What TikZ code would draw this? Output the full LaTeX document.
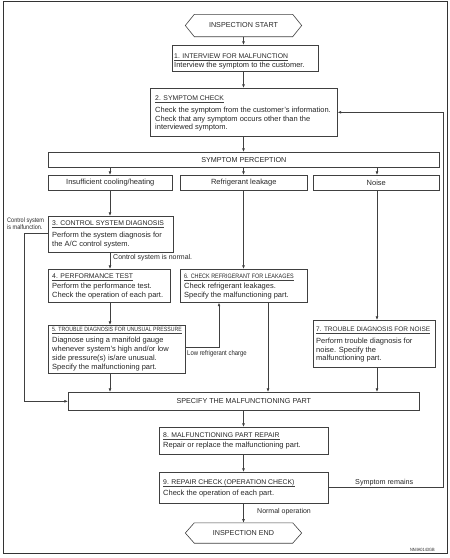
\documentclass[tikz,border=0pt]{standalone}
\usepackage{fontspec}
\setmainfont{Liberation Sans}
\newfontfamily\narrowfam[FakeStretch=0.85]{Liberation Sans}
\usetikzlibrary{arrows.meta,calc}
\newcommand\titlefont{\fontsize{7.2}{8.8}\selectfont}
\newcommand\steptitlefont{\fontsize{6.85}{8.8}\selectfont}
\newcommand\bodyfont{\fontsize{7.5}{8.8}\selectfont}
\newcommand\narrowtitle{\narrowfam\fontsize{6.4}{8}\selectfont}
\newcommand\mkTitle[4][\steptitlefont]{%
  \node[ttl,font=#1] (#2) at #3 {#4};
  \draw[ulin] ([yshift=-2.3pt]#2.south west) -- ([yshift=-2.3pt]#2.south east);}
\begin{document}
\begin{tikzpicture}[x=1pt,y=-1pt,
  box/.style={draw=black!75, line width=0.6pt, inner sep=0pt, anchor=north west, font=\titlefont, text=black!85},
  ttl/.style={anchor=base west, inner sep=0pt, text depth=0pt, text=black!85},
  ulin/.style={draw=black!75, line width=0.45pt},
  body/.style={anchor=north west, inner sep=0pt, align=left, font=\bodyfont, text=black!85},
  lbl/.style={anchor=base west, inner sep=0pt, font=\fontsize{7}{8}\selectfont, text=black!85},
  conn/.style={draw=black!75, line width=0.6pt},
  arr/.style={conn, -{Latex[length=3.6pt,width=2.8pt]}},
  hexnode/.style={inner sep=0pt, minimum width=98pt, minimum height=22pt, font=\titlefont, text=black!85}
]
\useasboundingbox (0,0) rectangle (450,558);
\draw[draw=black!80, line width=1pt] (3,1) rectangle (447,553);

% column coordinates
\coordinate (c1) at (110,0);
\coordinate (c2) at (243.5,0);
\coordinate (c3) at (268,0);
\coordinate (c4) at (377,0);

% start / end
\node[hexnode] (start) at (243.5,25.5) {INSPECTION START};
\draw[conn] (start.north west) -- (start.north east) -- ([xshift=9pt]start.east) -- (start.south east) -- (start.south west) -- ([xshift=-9pt]start.west) -- cycle;
\node[hexnode, minimum height=20pt] (end) at (243.5,533) {INSPECTION END};
\draw[conn] (end.north west) -- (end.north east) -- ([xshift=9pt]end.east) -- (end.south east) -- (end.south west) -- ([xshift=-9pt]end.west) -- cycle;

% boxes
\node[box, minimum width=146pt, minimum height=26pt] (b1) at (172,45) {};
\node[box, minimum width=187pt, minimum height=48pt] (b2) at (150,88) {};
\node[box, minimum width=391pt, minimum height=15pt] (sp) at (48,152) {};
\node at (sp.center) [font=\titlefont, text=black!85, inner sep=0pt] (spt) {SYMPTOM PERCEPTION};
\node[box, minimum width=124pt, minimum height=15pt] (ins) at (48,175) {};
\node at (ins.center) [font=\bodyfont, text=black!85, inner sep=0pt] (inst) {Insufficient cooling/heating};
\node[box, minimum width=127pt, minimum height=15pt] (ref) at (180,175) {};
\node at (ref.center) [font=\bodyfont, text=black!85, inner sep=0pt] (reft) {Refrigerant leakage};
\node[box, minimum width=126pt, minimum height=15pt] (noise) at (313,175) {};
\node at (noise.center) [font=\bodyfont, text=black!85, inner sep=0pt] (noiset) {Noise};
\node[box, minimum width=125pt, minimum height=36pt] (b3) at (48,216) {};
\node[box, minimum width=122pt, minimum height=33pt] (b4) at (48,269) {};
\node[box, minimum width=127pt, minimum height=33pt] (b6) at (180,269) {};
\node[box, minimum width=137pt, minimum height=48pt] (b5) at (48,325) {};
\node[box, minimum width=122pt, minimum height=47pt] (b7) at (313,320) {};
\node[box, minimum width=351pt, minimum height=18pt] (spec) at (68,392) {};
\node at (spec.center) [font=\titlefont, text=black!85, inner sep=0pt] (spect) {SPECIFY THE MALFUNCTIONING PART};
\node[box, minimum width=169pt, minimum height=27pt] (b8) at (159,427) {};
\node[box, minimum width=169pt, minimum height=31pt] (b9) at (159,472) {};

% titles
\mkTitle{t1}{(174,58)}{1. INTERVIEW FOR MALFUNCTION}
\mkTitle{t2}{(155,100)}{2. SYMPTOM CHECK}
\mkTitle{t3}{(52,225)}{3. CONTROL SYSTEM DIAGNOSIS}
\mkTitle{t4}{(52,278)}{4. PERFORMANCE TEST}
\mkTitle[\narrowtitle]{t6}{(184,278)}{6. CHECK REFRIGERANT FOR LEAKAGES}
\mkTitle[\narrowfam\fontsize{6.1}{8}\selectfont]{t5}{(52,331)}{5. TROUBLE DIAGNOSIS FOR UNUSUAL PRESSURE}
\mkTitle[\fontsize{6.5}{8}\selectfont]{t7}{(316,331)}{7. TROUBLE DIAGNOSIS FOR NOISE}
\mkTitle{t8}{(163,437)}{8. MALFUNCTIONING PART REPAIR}
\mkTitle{t9}{(163,484)}{9. REPAIR CHECK (OPERATION CHECK)}

% bodies (north = first baseline - 6.16)
\node[body] (x1) at (174,60.84) {\strut Interview the symptom to the customer.};
\node[body] (x2) at (155,105.84) {\strut Check the symptom from the customer's information.\\Check that any symptom occurs other than the\\interviewed symptom.};
\node[body] (x3) at (52,230.84) {\strut Perform the system diagnosis for\\the A/C control system.};
\node[body] (x4) at (52,281.84) {\strut Perform the performance test.\\Check the operation of each part.};
\node[body] (x6) at (184,281.84) {\strut Check refrigerant leakages.\\Specify the malfunctioning part.};
\node[body] (x5) at (52,336.34) {\strut Diagnose using a manifold gauge\\whenever system's high and/or low\\side pressure(s) is/are unusual.\\Specify the malfunctioning part.};
\node[body] (x7) at (316,336.84) {\strut Perform trouble diagnosis for\\noise. Specify the\\malfunctioning part.};
\node[body] (x8) at (163,440.84) {\strut Repair or replace the malfunctioning part.};
\node[body] (x9) at (163,488.84) {\strut Check the operation of each part.};

% connectors
\draw[arr] (start.south -| c2) -- (b1.north -| c2);
\draw[arr] (b1.south -| c2) -- (b2.north -| c2);
\draw[arr] (b2.south -| c2) -- (sp.north -| c2);
\draw[arr] (sp.south -| c1) -- (ins.north -| c1);
\draw[arr] (sp.south -| c2) -- (ref.north -| c2);
\draw[arr] (sp.south -| c4) -- (noise.north -| c4);
\draw[arr] (ins.south -| c1) -- (b3.north -| c1);
\draw[arr] (b3.south -| c1) -- (b4.north -| c1);
\draw[arr] (ref.south -| c2) -- (b6.north -| c2);
\draw[arr] (b4.south -| c1) -- (b5.north -| c1);
\draw[arr] (noise.south -| c4) -- (b7.north -| c4);
\draw[arr] (b5.south -| c1) -- (spec.north -| c1);
\draw[arr] (b6.south -| c3) -- (spec.north -| c3);
\draw[arr] (b7.south -| c4) -- (spec.north -| c4);
\draw[arr] (spec.south -| c2) -- (b8.north -| c2);
\draw[arr] (b8.south -| c2) -- (b9.north -| c2);
\draw[arr] (b9.south -| c2) -- (end.north -| c2);

\coordinate (k1) at (24,233);
\draw[arr] (b3.west |- k1) -- (k1) -- (k1 |- spec.west) -- (spec.west);
\coordinate (k2) at (219,347);
\draw[arr] (b5.east |- k2) -- (k2) -- (k2 |- b6.south);
\coordinate (k3) at (443,487);
\draw[arr] (b9.east |- k3) -- (k3) -- (k3 |- b2.east) -- (b2.east);

% labels
\node[anchor=north west, inner sep=0pt, align=left, text=black!85, font=\narrowfam\fontsize{6.5}{6}\selectfont] (lcs) at (7,217.3) {\strut Control system\\is malfunction.};
\node[lbl] (lnorm) at (113,259.5) {Control system is normal.};
\node[lbl, font=\narrowfam\fontsize{7}{8}\selectfont] (llow) at (187,355) {Low refrigerant charge};
\node[lbl, font=\fontsize{7.2}{8}\selectfont] (lsym) at (355,484) {Symptom remains};
\node[lbl] (lnop) at (257,513.5) {Normal operation};
\node[anchor=base east, inner sep=0pt, text=black!85, font=\narrowfam\fontsize{4.6}{5}\selectfont] (code) at (435,551) {NNIIA0143GB};
\end{tikzpicture}
\end{document}
